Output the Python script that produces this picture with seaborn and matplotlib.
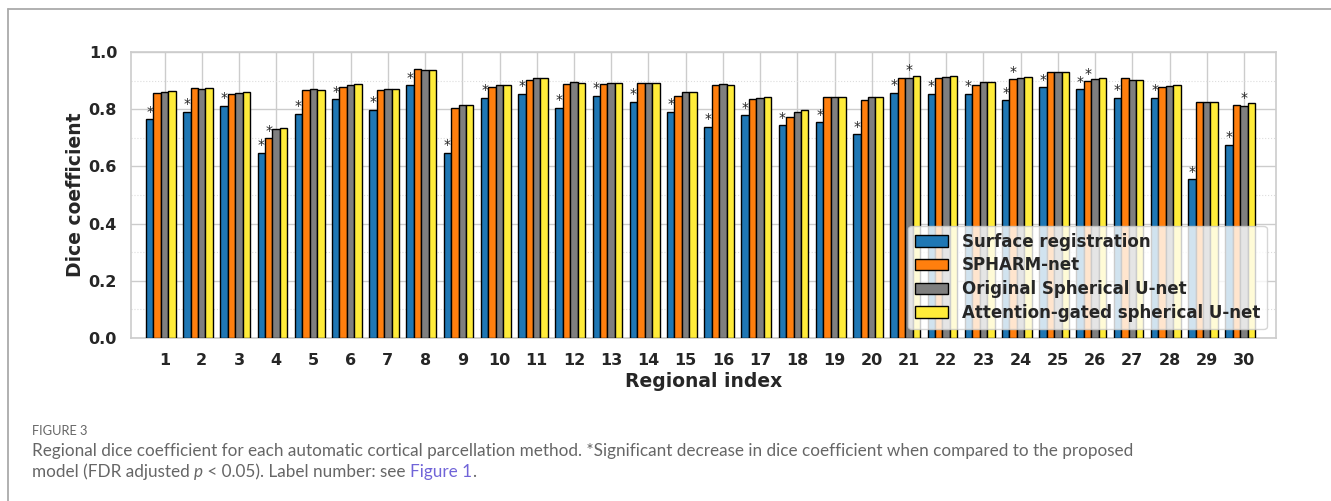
import numpy as np
import pandas as pd
import matplotlib
matplotlib.use("Agg")
import matplotlib.pyplot as plt
from matplotlib.lines import Line2D
import seaborn as sns

# ---------------- data ----------------
regions = [str(i) for i in range(1, 31)]
methods = ["Surface registration", "SPHARM-net", "Original Spherical U-net",
           "Attention-gated spherical U-net"]

surface = [0.764, 0.791, 0.812, 0.648, 0.784, 0.834, 0.797, 0.884, 0.648, 0.839,
           0.854, 0.805, 0.846, 0.825, 0.791, 0.738, 0.778, 0.744, 0.754, 0.713,
           0.857, 0.853, 0.853, 0.831, 0.877, 0.870, 0.839, 0.839, 0.555, 0.675]
spharm = [0.856, 0.874, 0.853, 0.699, 0.867, 0.876, 0.866, 0.939, 0.803, 0.879,
          0.903, 0.888, 0.888, 0.890, 0.847, 0.883, 0.834, 0.773, 0.841, 0.832,
          0.910, 0.910, 0.884, 0.905, 0.929, 0.898, 0.908, 0.877, 0.825, 0.813]
original = [0.861, 0.869, 0.856, 0.730, 0.869, 0.883, 0.869, 0.936, 0.815, 0.884,
            0.908, 0.894, 0.891, 0.890, 0.859, 0.888, 0.839, 0.791, 0.841, 0.843,
            0.910, 0.912, 0.894, 0.910, 0.930, 0.907, 0.903, 0.882, 0.824, 0.811]
attention = [0.864, 0.873, 0.860, 0.736, 0.866, 0.887, 0.869, 0.936, 0.815, 0.884,
             0.910, 0.891, 0.891, 0.890, 0.859, 0.886, 0.841, 0.796, 0.841, 0.843,
             0.915, 0.915, 0.894, 0.911, 0.930, 0.910, 0.903, 0.883, 0.825, 0.822]

# regions (1-based) with a significance star, per method
star_surface = list(range(1, 31))
star_spharm = [4, 24, 26]
star_original = [21, 30]
star_attention = []

colors = ["#1f77b4", "#ff7f0e", "#7f7f7f", "#ffec3a"]

# ---------------- frame ----------------
sns.set_theme(style="whitegrid")
plt.rcParams["font.family"] = ["DejaVu Sans"]

series = [surface, spharm, original, attention]
stars = [star_surface, star_spharm, star_original, star_attention]
df = pd.DataFrame({
    "region": np.tile(regions, len(methods)),
    "method": np.repeat(methods, len(regions)),
    "dice": np.concatenate(series),
})

W, H = 1331, 501
fig = plt.figure(figsize=(W / 100, H / 100), dpi=100)
ax = fig.add_axes([131 / W, 1 - 338 / H, (1276 - 131) / W, (338 - 52) / H])

sns.barplot(data=df, x="region", y="dice", hue="method", hue_order=methods,
            order=regions, palette=colors, edgecolor="black", linewidth=1.0,
            saturation=1, errorbar=None, width=0.8, ax=ax, zorder=3)

# significance stars from bar geometry
for j, cont in enumerate(ax.containers):
    for i, patch in enumerate(cont):
        if (i + 1) in stars[j]:
            cx = patch.get_x() + patch.get_width() / 2
            ax.text(cx, patch.get_height() + 0.002, "*", ha="center", va="bottom",
                    fontsize=10, color="#222222", zorder=4)

# ticks: grid line through the third bar of each group
ax.set_xticks(np.arange(len(regions)) + 0.1)
ax.set_xticklabels(regions)
ax.set_xlim(-0.8, 29.96)
ax.set_ylim(0, 1.0)
ax.set_yticks([0, 0.2, 0.4, 0.6, 0.8, 1.0])
ax.set_yticklabels(["0.0", "0.2", "0.4", "0.6", "0.8", "1.0"])
ax.set_yticks([0.1, 0.3, 0.5, 0.7, 0.9], minor=True)
ax.grid(True, which="major", color="#cccccc", linewidth=1.0, zorder=0)
ax.grid(True, which="minor", axis="y", color="#dddddd", linewidth=0.8,
        linestyle=":", zorder=0)
ax.set_axisbelow(True)
for s in ax.spines.values():
    s.set_color("#cccccc")
    s.set_linewidth(1.2)

ax.tick_params(axis="x", which="both", length=0, pad=11, labelsize=11.5,
               labelcolor="#262626")
ax.tick_params(axis="y", which="both", length=0, pad=10, labelsize=11.5,
               labelcolor="#262626")
for lab in ax.get_xticklabels() + ax.get_yticklabels():
    lab.set_fontweight("bold")

ax.set_xlabel("Regional index", fontsize=13.5, fontweight="bold", color="#262626")
ax.set_ylabel("Dice coefficient", fontsize=13.5, fontweight="bold", color="#262626")
ax.xaxis.set_label_coords(0.5, -0.118)
ax.yaxis.set_label_coords(-0.0405, 0.5)

leg = ax.legend(loc="lower right", prop={"weight": "bold", "size": 12},
                frameon=True, borderaxespad=0.55, labelspacing=0.35)
leg.get_frame().set_edgecolor("#cccccc")
for t in leg.get_texts():
    t.set_color("#262626")

# ---------------- caption ----------------
cap_font = ["Lato", "DejaVu Sans"]
fig.text(32 / W, 1 - 435 / H, "FIGURE 3", fontsize=9.3, color="#666666",
         family=cap_font, ha="left", va="baseline")
line1 = fig.text(32 / W, 1 - 456 / H,
                 "Regional dice coefficient for each automatic cortical parcellation "
                 "method. *Significant decrease in dice coefficient when compared to "
                 "the proposed", fontsize=11.5, color="#666666", family=cap_font,
                 ha="left", va="baseline")
fig.canvas.draw()
w1 = line1.get_window_extent().width
fs = 11.5 * (1127 - 32) / w1
line1.set_fontsize(fs)

pieces = [("model (FDR adjusted ", "normal", "#666666"),
          ("p", "italic", "#666666"),
          (" < 0.05). Label number: see ", "normal", "#666666"),
          ("Figure 1", "normal", "#7064d8"),
          (".", "normal", "#666666")]
prev = fig.text(32 / W, 1 - 480 / H, pieces[0][0], fontsize=fs, color=pieces[0][2],
                family=cap_font, ha="left", va="bottom")
for txt, style, col in pieces[1:]:
    prev = ax.annotate(txt, xy=(1, 0), xycoords=prev, ha="left", va="bottom",
                       fontsize=fs, color=col, family=cap_font, fontstyle=style,
                       annotation_clip=False)

# outer frame lines (top and left)
fig.add_artist(Line2D([8 / W, 1], [1 - 9 / H, 1 - 9 / H], transform=fig.transFigure,
                      color="#aaaaaa", linewidth=1.3))
fig.add_artist(Line2D([8 / W, 8 / W], [0, 1 - 9 / H], transform=fig.transFigure,
                      color="#aaaaaa", linewidth=1.3))

fig.savefig("out.png", dpi=100)
